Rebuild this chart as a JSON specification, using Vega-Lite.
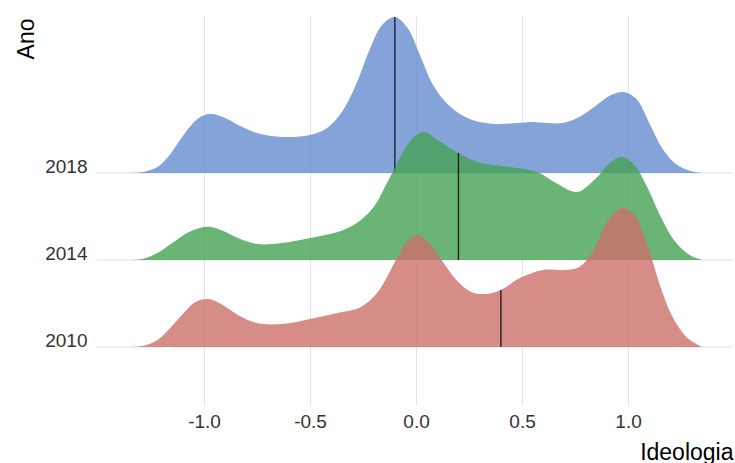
{
  "$schema": "https://vega.github.io/schema/vega-lite/v6.json",
  "width": 636,
  "height": 389,
  "autosize": {"type": "none"},
  "padding": {"left": 97, "top": 16, "right": 2, "bottom": 58},
  "config": {
    "view": {"stroke": null},
    "font": "Liberation Sans",
    "axis": {"labelFont": "Liberation Sans", "titleFont": "Liberation Sans"}
  },
  "datasets": {
    "anos": [{"Ano": 2010}, {"Ano": 2014}, {"Ano": 2018}],
    "dens": [
      {"Ano": 2018, "Ideologia": -1.36, "densidade": 0},
      {"Ano": 2018, "Ideologia": -1.29, "densidade": 0.01},
      {"Ano": 2018, "Ideologia": -1.22, "densidade": 0.06},
      {"Ano": 2018, "Ideologia": -1.17, "densidade": 0.16},
      {"Ano": 2018, "Ideologia": -1.12, "densidade": 0.31},
      {"Ano": 2018, "Ideologia": -1.06, "densidade": 0.48},
      {"Ano": 2018, "Ideologia": -1.01, "densidade": 0.57},
      {"Ano": 2018, "Ideologia": -0.96, "densidade": 0.59},
      {"Ano": 2018, "Ideologia": -0.90, "densidade": 0.55},
      {"Ano": 2018, "Ideologia": -0.83, "densidade": 0.47},
      {"Ano": 2018, "Ideologia": -0.75, "densidade": 0.40},
      {"Ano": 2018, "Ideologia": -0.63, "densidade": 0.36},
      {"Ano": 2018, "Ideologia": -0.50, "densidade": 0.38},
      {"Ano": 2018, "Ideologia": -0.42, "densidade": 0.45},
      {"Ano": 2018, "Ideologia": -0.35, "densidade": 0.61},
      {"Ano": 2018, "Ideologia": -0.28, "densidade": 0.90},
      {"Ano": 2018, "Ideologia": -0.22, "densidade": 1.23},
      {"Ano": 2018, "Ideologia": -0.16, "densidade": 1.48},
      {"Ano": 2018, "Ideologia": -0.10, "densidade": 1.56},
      {"Ano": 2018, "Ideologia": -0.04, "densidade": 1.45},
      {"Ano": 2018, "Ideologia": 0.02, "densidade": 1.17},
      {"Ano": 2018, "Ideologia": 0.07, "densidade": 0.92},
      {"Ano": 2018, "Ideologia": 0.13, "densidade": 0.73},
      {"Ano": 2018, "Ideologia": 0.20, "densidade": 0.60},
      {"Ano": 2018, "Ideologia": 0.28, "densidade": 0.52},
      {"Ano": 2018, "Ideologia": 0.38, "densidade": 0.49},
      {"Ano": 2018, "Ideologia": 0.48, "densidade": 0.50},
      {"Ano": 2018, "Ideologia": 0.55, "densidade": 0.51},
      {"Ano": 2018, "Ideologia": 0.62, "densidade": 0.50},
      {"Ano": 2018, "Ideologia": 0.69, "densidade": 0.50},
      {"Ano": 2018, "Ideologia": 0.76, "densidade": 0.55},
      {"Ano": 2018, "Ideologia": 0.84, "densidade": 0.66},
      {"Ano": 2018, "Ideologia": 0.92, "densidade": 0.78},
      {"Ano": 2018, "Ideologia": 0.98, "densidade": 0.81},
      {"Ano": 2018, "Ideologia": 1.04, "densidade": 0.74},
      {"Ano": 2018, "Ideologia": 1.10, "densidade": 0.50},
      {"Ano": 2018, "Ideologia": 1.16, "densidade": 0.25},
      {"Ano": 2018, "Ideologia": 1.22, "densidade": 0.10},
      {"Ano": 2018, "Ideologia": 1.28, "densidade": 0.03},
      {"Ano": 2018, "Ideologia": 1.35, "densidade": 0},

      {"Ano": 2014, "Ideologia": -1.35, "densidade": 0},
      {"Ano": 2014, "Ideologia": -1.29, "densidade": 0.01},
      {"Ano": 2014, "Ideologia": -1.22, "densidade": 0.07},
      {"Ano": 2014, "Ideologia": -1.15, "densidade": 0.17},
      {"Ano": 2014, "Ideologia": -1.08, "densidade": 0.27},
      {"Ano": 2014, "Ideologia": -1.02, "densidade": 0.32},
      {"Ano": 2014, "Ideologia": -0.97, "densidade": 0.33},
      {"Ano": 2014, "Ideologia": -0.91, "densidade": 0.29},
      {"Ano": 2014, "Ideologia": -0.84, "densidade": 0.22},
      {"Ano": 2014, "Ideologia": -0.75, "densidade": 0.16},
      {"Ano": 2014, "Ideologia": -0.63, "densidade": 0.17},
      {"Ano": 2014, "Ideologia": -0.50, "densidade": 0.22},
      {"Ano": 2014, "Ideologia": -0.37, "densidade": 0.28},
      {"Ano": 2014, "Ideologia": -0.28, "densidade": 0.37},
      {"Ano": 2014, "Ideologia": -0.20, "densidade": 0.53},
      {"Ano": 2014, "Ideologia": -0.13, "densidade": 0.80},
      {"Ano": 2014, "Ideologia": -0.06, "densidade": 1.08},
      {"Ano": 2014, "Ideologia": -0.01, "densidade": 1.23},
      {"Ano": 2014, "Ideologia": 0.04, "densidade": 1.28},
      {"Ano": 2014, "Ideologia": 0.10, "densidade": 1.20},
      {"Ano": 2014, "Ideologia": 0.20, "densidade": 1.07},
      {"Ano": 2014, "Ideologia": 0.29, "densidade": 0.98},
      {"Ano": 2014, "Ideologia": 0.44, "densidade": 0.93},
      {"Ano": 2014, "Ideologia": 0.57, "densidade": 0.88},
      {"Ano": 2014, "Ideologia": 0.66, "densidade": 0.77},
      {"Ano": 2014, "Ideologia": 0.76, "densidade": 0.68},
      {"Ano": 2014, "Ideologia": 0.85, "densidade": 0.82},
      {"Ano": 2014, "Ideologia": 0.92, "densidade": 0.98},
      {"Ano": 2014, "Ideologia": 0.97, "densidade": 1.03},
      {"Ano": 2014, "Ideologia": 1.03, "densidade": 0.95},
      {"Ano": 2014, "Ideologia": 1.09, "densidade": 0.73},
      {"Ano": 2014, "Ideologia": 1.15, "densidade": 0.45},
      {"Ano": 2014, "Ideologia": 1.22, "densidade": 0.19},
      {"Ano": 2014, "Ideologia": 1.29, "densidade": 0.05},
      {"Ano": 2014, "Ideologia": 1.35, "densidade": 0},

      {"Ano": 2010, "Ideologia": -1.35, "densidade": 0},
      {"Ano": 2010, "Ideologia": -1.29, "densidade": 0.01},
      {"Ano": 2010, "Ideologia": -1.22, "densidade": 0.07},
      {"Ano": 2010, "Ideologia": -1.16, "densidade": 0.19},
      {"Ano": 2010, "Ideologia": -1.10, "densidade": 0.33},
      {"Ano": 2010, "Ideologia": -1.04, "densidade": 0.45},
      {"Ano": 2010, "Ideologia": -0.98, "densidade": 0.48},
      {"Ano": 2010, "Ideologia": -0.92, "densidade": 0.43},
      {"Ano": 2010, "Ideologia": -0.84, "densidade": 0.32},
      {"Ano": 2010, "Ideologia": -0.75, "densidade": 0.24},
      {"Ano": 2010, "Ideologia": -0.63, "densidade": 0.23},
      {"Ano": 2010, "Ideologia": -0.50, "densidade": 0.28},
      {"Ano": 2010, "Ideologia": -0.37, "densidade": 0.34},
      {"Ano": 2010, "Ideologia": -0.26, "densidade": 0.40},
      {"Ano": 2010, "Ideologia": -0.18, "densidade": 0.55},
      {"Ano": 2010, "Ideologia": -0.10, "densidade": 0.85},
      {"Ano": 2010, "Ideologia": -0.04, "densidade": 1.06},
      {"Ano": 2010, "Ideologia": 0.01, "densidade": 1.12},
      {"Ano": 2010, "Ideologia": 0.06, "densidade": 1.04},
      {"Ano": 2010, "Ideologia": 0.12, "densidade": 0.87},
      {"Ano": 2010, "Ideologia": 0.19, "densidade": 0.67},
      {"Ano": 2010, "Ideologia": 0.26, "densidade": 0.55},
      {"Ano": 2010, "Ideologia": 0.33, "densidade": 0.53},
      {"Ano": 2010, "Ideologia": 0.40, "densidade": 0.57},
      {"Ano": 2010, "Ideologia": 0.49, "densidade": 0.69},
      {"Ano": 2010, "Ideologia": 0.60, "densidade": 0.77},
      {"Ano": 2010, "Ideologia": 0.70, "densidade": 0.77},
      {"Ano": 2010, "Ideologia": 0.77, "densidade": 0.80},
      {"Ano": 2010, "Ideologia": 0.84, "densidade": 0.98},
      {"Ano": 2010, "Ideologia": 0.90, "densidade": 1.25},
      {"Ano": 2010, "Ideologia": 0.97, "densidade": 1.39},
      {"Ano": 2010, "Ideologia": 1.03, "densidade": 1.32},
      {"Ano": 2010, "Ideologia": 1.09, "densidade": 1.03},
      {"Ano": 2010, "Ideologia": 1.15, "densidade": 0.62},
      {"Ano": 2010, "Ideologia": 1.21, "densidade": 0.30},
      {"Ano": 2010, "Ideologia": 1.28, "densidade": 0.09},
      {"Ano": 2010, "Ideologia": 1.35, "densidade": 0}
    ],
    "medianas": [
      {"Ano": 2018, "Ideologia": -0.10, "densidade": 1.56},
      {"Ano": 2014, "Ideologia": 0.20, "densidade": 1.07},
      {"Ano": 2010, "Ideologia": 0.40, "densidade": 0.57}
    ]
  },
  "layer": [
    {
      "data": {"name": "anos"},
      "mark": {"type": "rule", "color": "#e2e2e2", "strokeWidth": 1},
      "encoding": {
        "y": {
          "field": "Ano",
          "type": "quantitative",
          "scale": {"domain": [2007.333, 2025.218], "nice": false, "zero": false},
          "axis": {
            "orient": "left",
            "values": [2010, 2014, 2018],
            "format": "d",
            "grid": false,
            "domain": false,
            "ticks": false,
            "tickSize": 0,
            "labelPadding": 10,
            "labelBaseline": "alphabetic",
            "labelFontSize": 19,
            "labelColor": "#333333",
            "title": "Ano",
            "titleFontSize": 23,
            "titleFontWeight": "normal",
            "titleColor": "#000000",
            "titleAngle": 270,
            "titleAlign": "right",
            "titleBaseline": "alphabetic",
            "titleX": -64,
            "titleY": 2
          }
        }
      }
    },
    {
      "layer": [
        {
          "data": {"name": "dens"},
          "transform": [{"filter": "datum.Ano == 2018"}],
          "mark": {"type": "area", "interpolate": "catmull-rom", "color": "#658CCE", "fillOpacity": 0.8},
          "encoding": {
            "x": {"field": "Ideologia", "type": "quantitative", "scale": {"domain": [-1.505, 1.495], "nice": false, "zero": false},
              "axis": {"values": [-1, -0.5, 0, 0.5, 1], "labelExpr": "datum.value < 0 ? '-' + format(-datum.value, '.1f') : format(datum.value, '.1f')", "grid": true, "gridColor": "#e2e2e2", "gridWidth": 1, "domain": false, "ticks": false, "tickSize": 0, "labelPadding": 22, "labelBaseline": "alphabetic", "labelFontSize": 19, "labelColor": "#333333", "title": "Ideologia", "titleFontSize": 23, "titleFontWeight": "normal", "titleColor": "#000000", "titleAlign": "right", "titleAnchor": null, "titleBaseline": "alphabetic", "titleX": 636, "titleY": 54}},
            "y": {"field": "densidade", "type": "quantitative", "scale": {"domain": [-2.32, 1.57], "nice": false, "zero": false}, "axis": null}
          }
        },
        {
          "data": {"name": "medianas"},
          "transform": [{"filter": "datum.Ano == 2018"}],
          "mark": {"type": "rule", "color": "#000000", "strokeWidth": 1.3, "opacity": 0.85},
          "encoding": {
            "x": {"field": "Ideologia", "type": "quantitative"},
            "y": {"field": "densidade", "type": "quantitative"},
            "y2": {"datum": 0}
          }
        }
      ]
    },
    {
      "layer": [
        {
          "data": {"name": "dens"},
          "transform": [{"filter": "datum.Ano == 2014"}],
          "mark": {"type": "area", "interpolate": "catmull-rom", "color": "#45A154", "fillOpacity": 0.8},
          "encoding": {
            "x": {"field": "Ideologia", "type": "quantitative"},
            "y": {"field": "densidade", "type": "quantitative", "scale": {"domain": [-1.45, 2.44], "nice": false, "zero": false}, "axis": null}
          }
        },
        {
          "data": {"name": "medianas"},
          "transform": [{"filter": "datum.Ano == 2014"}],
          "mark": {"type": "rule", "color": "#000000", "strokeWidth": 1.3, "opacity": 0.85},
          "encoding": {
            "x": {"field": "Ideologia", "type": "quantitative"},
            "y": {"field": "densidade", "type": "quantitative"},
            "y2": {"datum": 0}
          }
        }
      ]
    },
    {
      "layer": [
        {
          "data": {"name": "dens"},
          "transform": [{"filter": "datum.Ano == 2010"}],
          "mark": {"type": "area", "interpolate": "catmull-rom", "color": "#CC6F69", "fillOpacity": 0.8},
          "encoding": {
            "x": {"field": "Ideologia", "type": "quantitative"},
            "y": {"field": "densidade", "type": "quantitative", "scale": {"domain": [-0.58, 3.31], "nice": false, "zero": false}, "axis": null}
          }
        },
        {
          "data": {"name": "medianas"},
          "transform": [{"filter": "datum.Ano == 2010"}],
          "mark": {"type": "rule", "color": "#000000", "strokeWidth": 1.3, "opacity": 0.85},
          "encoding": {
            "x": {"field": "Ideologia", "type": "quantitative"},
            "y": {"field": "densidade", "type": "quantitative"},
            "y2": {"datum": 0}
          }
        }
      ]
    }
  ],
  "resolve": {"scale": {"y": "independent"}}
}
